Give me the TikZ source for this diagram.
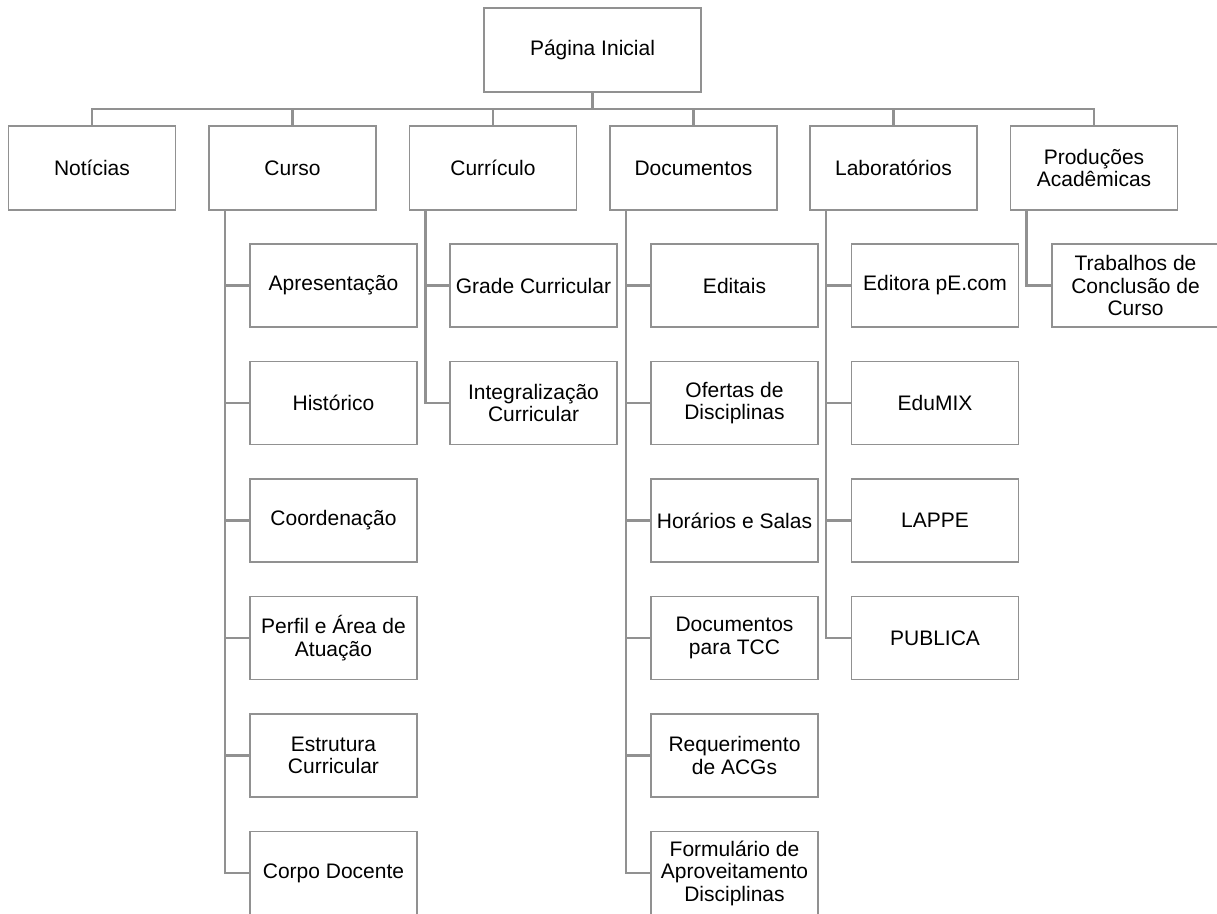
\documentclass[tikz,border=0pt]{standalone}
\usepackage{fontspec}
\setmainfont{Liberation Sans}
\definecolor{linegray}{RGB}{145,145,145}
\begin{document}
\begin{tikzpicture}[x=1pt,y=-1pt,
  box/.style={draw=linegray,line width=1.9pt,fill=white,inner sep=0pt,
    align=center,text=black,font=\fontsize{21}{22.5}\selectfont},
  topbox/.style={box,minimum width=217pt,minimum height=84pt},
  lvlbox/.style={box,minimum width=167pt,minimum height=84pt},
  subbox/.style={box,minimum width=167pt,minimum height=83pt},
  link/.style={draw=linegray,line width=2.2pt}]
\useasboundingbox (0,0) rectangle (1217,913);
\clip (0,0) rectangle (1217,913);
% root
\node[topbox] (root) at (592.5,50) {Página Inicial};
\coordinate (bus) at (592.5,109);
% level 1
\node[lvlbox] (noticias) at (92,168) {Notícias};
\node[lvlbox] (curso) at (292.5,168) {Curso};
\node[lvlbox] (curriculo) at (493,168) {Currículo};
\node[lvlbox] (docs) at (693.5,168) {Documentos};
\node[lvlbox] (labs) at (893.5,168) {Laboratórios};
\node[lvlbox] (prod) at (1094,168) {Produções\\Acadêmicas};
% Curso children
\node[subbox] (apres) at (333.5,285.5) {Apresentação};
\node[subbox] (hist) at (333.5,403) {Histórico};
\node[subbox] (coord) at (333.5,520.5) {Coordenação};
\node[subbox] (perfil) at (333.5,638) {Perfil e Área de\\Atuação};
\node[subbox] (estr) at (333.5,755.5) {Estrutura\\Curricular};
\node[subbox] (corpo) at (333.5,873) {Corpo Docente};
% Currículo children
\node[subbox] (grade) at (533.5,285.5) {Grade Curricular};
\node[subbox] (integ) at (533.5,403) {Integralização\\Curricular};
% Documentos children
\node[subbox] (editais) at (734.5,285.5) {Editais};
\node[subbox] (ofertas) at (734.5,403) {Ofertas de\\Disciplinas};
\node[subbox] (horarios) at (734.5,520.5) {Horários e Salas};
\node[subbox] (doctcc) at (734.5,638) {Documentos\\para TCC};
\node[subbox] (req) at (734.5,755.5) {Requerimento\\de ACGs};
\node[subbox] (form) at (734.5,873) {Formulário de\\Aproveitamento\\Disciplinas};
% Laboratórios children
\node[subbox] (editora) at (935,285.5) {Editora pE.com};
\node[subbox] (edumix) at (935,403) {EduMIX};
\node[subbox] (lappe) at (935,520.5) {LAPPE};
\node[subbox] (publica) at (935,638) {PUBLICA};
% Produções children
\node[subbox] (tcc) at (1135.5,285.5) {Trabalhos de\\Conclusão de\\Curso};
% level 1 connectors
\foreach \n in {noticias,curso,curriculo,docs,labs,prod}
  \path[link] (root.south) -- (root.south |- bus) -| (\n.north);
% child connectors
\foreach \p/\c in {curso/apres,curso/hist,curso/coord,curso/perfil,curso/estr,curso/corpo,
  curriculo/grade,curriculo/integ,
  docs/editais,docs/ofertas,docs/horarios,docs/doctcc,docs/req,docs/form,
  labs/editora,labs/edumix,labs/lappe,labs/publica,
  prod/tcc}
  \path[link] ([xshift=17pt]\p.south west) |- (\c.west);
\end{tikzpicture}
\end{document}
